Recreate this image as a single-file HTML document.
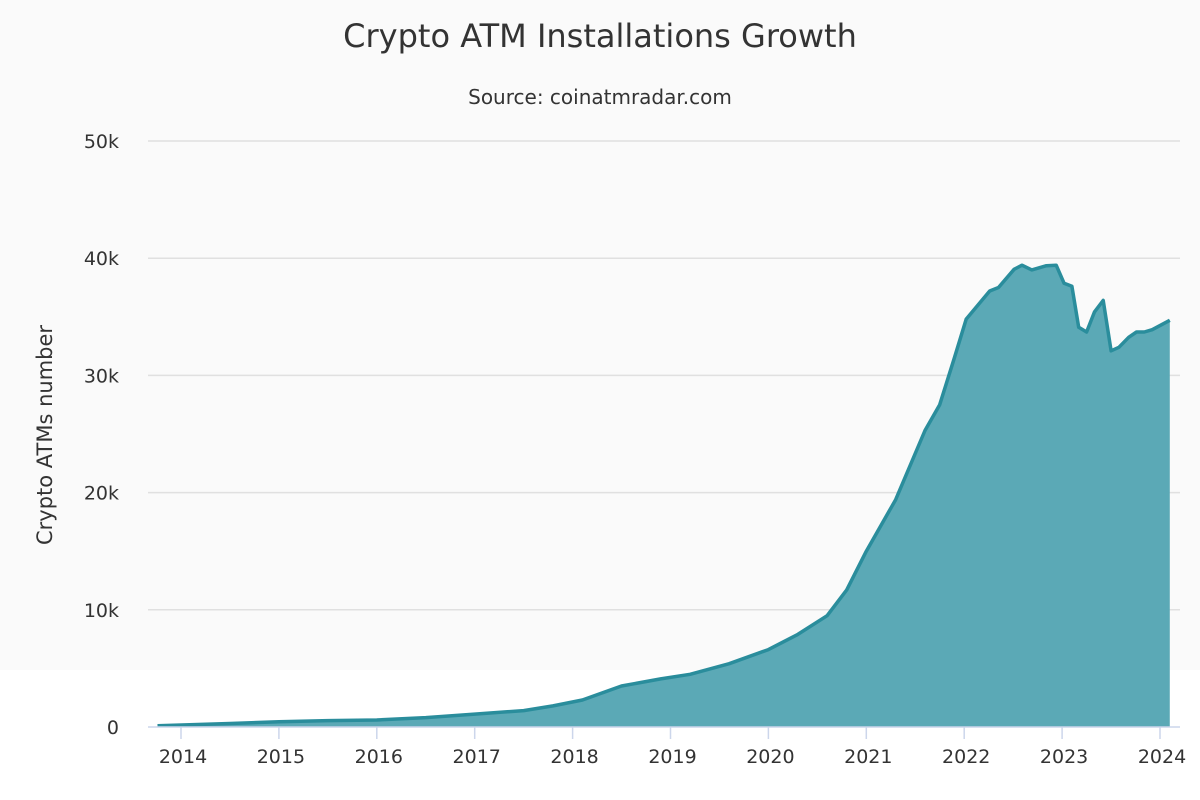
<!DOCTYPE html>
<html><head><meta charset="utf-8"><style>
body{margin:0;background:#fff;}
svg{display:block;font-family:"DejaVu Sans","Liberation Sans",sans-serif;}
</style></head><body>
<svg id="chart" width="1200" height="800">
<rect x="0" y="0" width="1200" height="670" fill="#fafafa"/>
<text x="600" y="47" text-anchor="middle" font-size="32" fill="#333">Crypto ATM Installations Growth</text>
<text x="600" y="104" text-anchor="middle" font-size="20" fill="#333">Source: coinatmradar.com</text>
<text transform="translate(52,435) rotate(-90)" text-anchor="middle" font-size="21" fill="#333">Crypto ATMs number</text>
<g id="grid"></g><g id="series"></g><g id="xaxis"></g>
</svg>
<script>
const yTicks=[0,10000,20000,30000,40000,50000];
const yTickLabels=["0","10k","20k","30k","40k","50k"];
const xTicks=[2014,2015,2016,2017,2018,2019,2020,2021,2022,2023,2024];
const dates=[2013.76,2014.5,2015,2015.5,2016,2016.5,2017,2017.5,2017.8,2018.1,2018.5,2018.9,2019.2,2019.6,2020.0,2020.3,2020.6,2020.8,2021.0,2021.3,2021.6,2021.75,2021.9,2022.02,2022.26,2022.35,2022.51,2022.59,2022.69,2022.84,2022.94,2023.02,2023.1,2023.17,2023.25,2023.33,2023.42,2023.5,2023.58,2023.68,2023.76,2023.84,2023.92,2024.1];
const atms=[100,300,450,550,600,800,1100,1400,1800,2300,3500,4100,4500,5400,6600,7900,9500,11700,15000,19400,25300,27500,31500,34800,37200,37500,39050,39400,39000,39360,39400,37860,37600,34100,33700,35400,36400,32100,32400,33250,33700,33700,33900,34700];
const NS="http://www.w3.org/2000/svg";
const X0=181,XS=97.9,Y0=727,YS=586/50000;
const xs=d=>X0+(d-2014)*XS, ys=v=>Y0-v*YS;
function mk(t,a,p){const e=document.createElementNS(NS,t);for(const k in a)e.setAttribute(k,a[k]);p.appendChild(e);return e;}
const grid=document.getElementById('grid');
yTicks.forEach((v,i)=>{
 if(v>0){const l=mk('line',{x1:148,x2:1180,y1:ys(v),y2:ys(v),stroke:'#e0e0e0','stroke-width':1.5},grid);
 
 }
 const t=mk('text',{x:119,y:ys(v)+7,'text-anchor':'end','font-size':19,fill:'#333'},grid);t.textContent=yTickLabels[i];
 
 
});
const ser=document.getElementById('series');
let pts=dates.map((d,i)=>xs(d).toFixed(1)+','+ys(atms[i]).toFixed(1));
const area=mk('path',{d:'M'+xs(dates[0])+','+Y0+' L'+pts.join(' L')+' L'+xs(dates[dates.length-1])+','+Y0+' Z',fill:'#5ba9b6'},ser);


const line=mk('polyline',{points:pts.join(' '),fill:'none',stroke:'#2a8d9c','stroke-width':3.5,'stroke-linejoin':'round'},ser);


const xa=document.getElementById('xaxis');
const ax=mk('line',{x1:148,x2:1180,y1:Y0,y2:Y0,stroke:'#ccd6eb','stroke-width':1.5},xa);


xTicks.forEach(y=>{
 const tk=mk('line',{x1:xs(y),x2:xs(y),y1:Y0,y2:Y0+12,stroke:'#ccd6eb','stroke-width':1.5},xa);
 
 
 const t=mk('text',{x:xs(y)+2,y:763,'text-anchor':'middle','font-size':19,fill:'#333'},xa);t.textContent=y;
 
 
});
</script>
</body></html>
